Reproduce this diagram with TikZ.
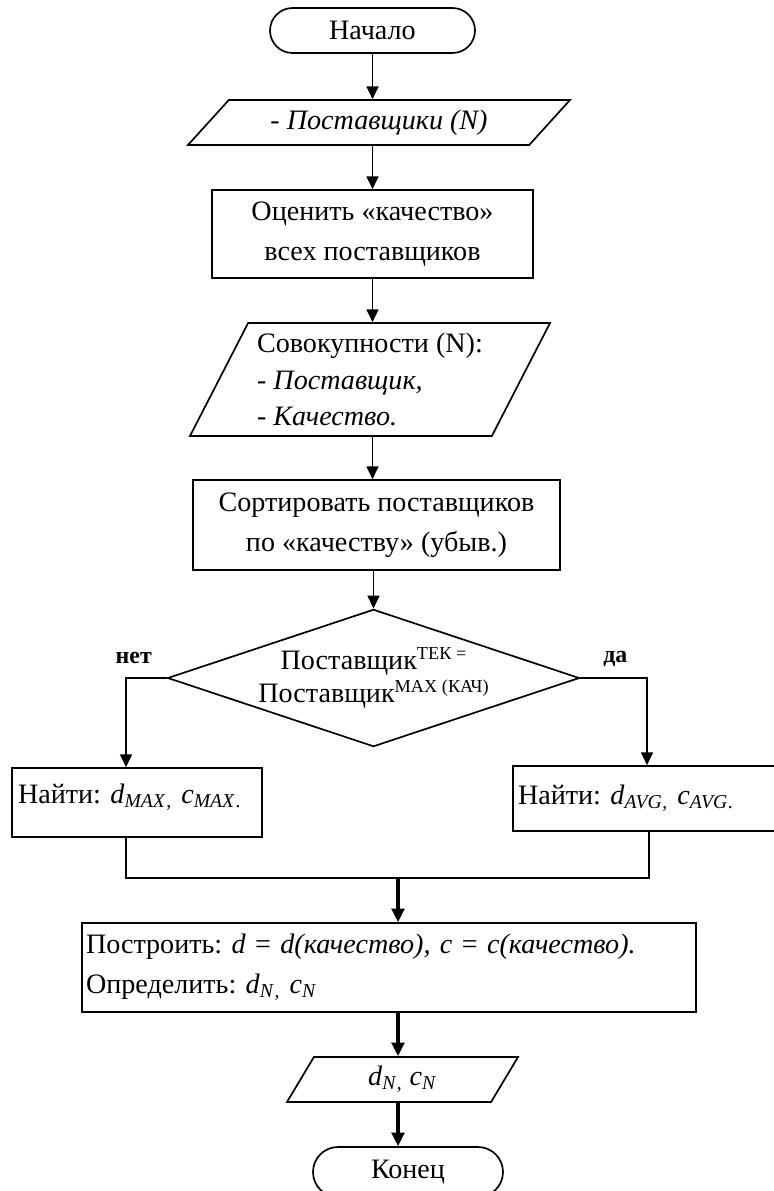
\documentclass[tikz,border=0pt]{standalone}
\usepackage{fontspec}
\setmainfont{Liberation Serif}
\frenchspacing
\usetikzlibrary{arrows.meta,positioning,shapes.geometric,shapes.misc,calc}
\newcommand{\pxu}{0.025cm}
\newcommand{\hisup}[1]{\raisebox{0.75ex}{\fontsize{13}{13}\selectfont #1}}
\tikzset{
  base/.style={draw, line width=1.2pt, font=\fontsize{20}{28.5}\selectfont, inner sep=0pt},
  term/.style={base, rounded rectangle},
  proc/.style={base, rectangle},
  io/.style={base, trapezium, trapezium stretches body},
  cond/.style={base, diamond, aspect=3, font=\fontsize{20}{23.5}\selectfont},
  lbl/.style={font=\fontsize{17}{20}\selectfont\bfseries},
  arr/.style={line width=1pt, -{Triangle[length=3.2mm,width=3mm]}},
  heavy/.style={line width=2.2pt, -{Triangle[length=3.4mm,width=3.2mm]}}
}

\begin{document}
\begin{tikzpicture}[x=0.025cm,y=-0.025cm]
    \useasboundingbox (0,0) rectangle (774,1191);
    \clip (0,0) rectangle (774,1191);

    % Column of steps
    \node[term, minimum width=205*\pxu, minimum height=45*\pxu] (start) at (372.5,30.5) {Начало};
    \node[io, trapezium left angle=32, trapezium right angle=148,
          minimum width=382*\pxu, minimum height=45*\pxu] (suppl) at (379,122.5) {\textit{- Поставщики (N)}};
    \node[proc, minimum width=321*\pxu, minimum height=88*\pxu, align=center] (rate) at (372.5,234)
        {Оценить «качество»\\всех поставщиков};
    \node[io, trapezium left angle=58, trapezium right angle=122, font=\fontsize{20}{26}\selectfont,
          minimum width=360*\pxu, minimum height=113*\pxu, align=left] (sets) at (370,379.5)
        {Совокупности (N):\\- \textit{Поставщик,}\\- \textit{Качество.}};
    \node[proc, minimum width=367*\pxu, minimum height=90*\pxu, align=center] (sort) at (376.5,525)
        {Сортировать поставщиков\\по «качеству» (убыв.)};
    \node[cond, minimum width=401*\pxu, minimum height=133*\pxu, align=center] (check) at (373.5,678)
        {Поставщик\hisup{ТЕК =}\\Поставщик\hisup{MAX (КАЧ)}};

    % Branch labels
    \node[lbl] (no) at ([shift={(-33,-20)}]check.west) {нет};
    \node[lbl] (yes) at ([shift={(35,-19)}]check.east) {да};

    % Branches
    \node[proc, minimum width=250*\pxu, minimum height=69*\pxu, align=left, text width=238*\pxu,
          text depth=0.45cm] (findmax) at (137,802.5)
        {Найти: \textit{d}\textsubscript{\textit{MAX}}\textsubscript{,} \textit{c}\textsubscript{\textit{MAX}}\textsubscript{.}};
    \node[proc, minimum width=287*\pxu, minimum height=65*\pxu, align=left, text width=277*\pxu] (findavg) at (656.5,798.5)
        {Найти: \textit{d}\textsubscript{\textit{AVG}}\textsubscript{,} \textit{c}\textsubscript{\textit{AVG}}\textsubscript{.}};

    % Final steps
    \node[proc, minimum width=614*\pxu, minimum height=89*\pxu, align=left, text width=606*\pxu] (build) at (389,967.5)
        {Построить: \textit{d} = \textit{d(качество), c} = \textit{c(качество).}\\
         Определить: \textit{d}\textsubscript{\textit{N}}\textsubscript{,} \textit{c}\textsubscript{\textit{N}}};
    \node[io, trapezium left angle=45, trapezium right angle=135,
          minimum width=231*\pxu, minimum height=45*\pxu] (result) at (402.5,1079.5)
        {\textit{d}\textsubscript{\textit{N}}\textsubscript{,} \textit{c}\textsubscript{\textit{N}}};
    \node[term, minimum width=190*\pxu, minimum height=50*\pxu] (stop) at (408,1172) {Конец};

    % Arrows
    \draw[arr] (start.south) -- (start.south |- suppl.north);
    \draw[arr] (start.south |- suppl.south) -- (start.south |- rate.north);
    \draw[arr] (start.south |- rate.south) -- (start.south |- sets.north);
    \draw[arr] (start.south |- sets.south) -- (start.south |- sort.north);
    \draw[arr] (check.north |- sort.south) -- (check.north);

    \draw[arr] (check.west) -| ([xshift=-11*\pxu]findmax.north);
    \draw[arr] (check.east) -| ([xshift=-9.5*\pxu]findavg.north);

    \coordinate (merge) at (398,878);
    \draw[line width=1pt] ([xshift=-11*\pxu]findmax.south) |- (merge) -| ([xshift=-7.5*\pxu]findavg.south);
    \draw[heavy] (merge) -- (merge |- build.north);
    \draw[heavy] (merge |- build.south) -- (merge |- result.north);
    \draw[heavy] (merge |- result.south) -- (merge |- stop.north);
\end{tikzpicture}
\end{document}
